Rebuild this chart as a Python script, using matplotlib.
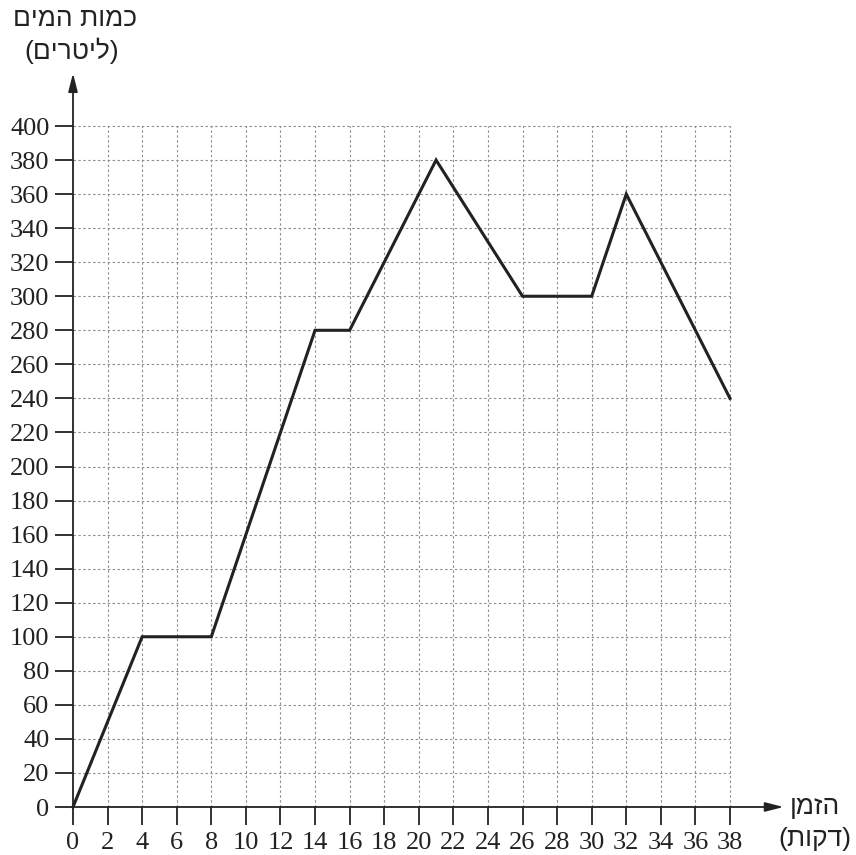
import matplotlib
matplotlib.use("Agg")
import matplotlib.pyplot as plt

# Data
time_min = [0, 4, 8, 14, 16, 21, 26, 30, 32, 38]
water_l = [0, 100, 100, 280, 280, 380, 300, 300, 360, 240]
x_ticks = list(range(0, 39, 2))
y_ticks = list(range(0, 401, 20))

def vis(s):
    # visual (left-to-right) order for Hebrew text
    return s[::-1]

y_label_1 = "כמות המים"
y_label_2 = "ליטרים"
x_label_1 = "הזמן"
x_label_2 = "דקות"

W, H = 856, 855
fig = plt.figure(figsize=(W / 100, H / 100), dpi=100)
x0_px, y0_px = 73, 807
px_per_x = (730 - 73) / 38
px_per_y = (807 - 126) / 400
xmax, ymax = 42, 436
ax = fig.add_axes([x0_px / W, (H - y0_px) / H, xmax * px_per_x / W, ymax * px_per_y / H])
ax.set_xlim(0, xmax)
ax.set_ylim(0, ymax)
for s in ax.spines.values():
    s.set_visible(False)

# grid
grid_kw = dict(color="#8f8f8f", lw=0.8, linestyle=(0, (2.2, 2.2)), zorder=1)
for xv in x_ticks[1:]:
    ax.plot([xv, xv], [0, y_ticks[-1]], **grid_kw)
for yv in y_ticks[1:]:
    ax.plot([0, x_ticks[-1]], [yv, yv], **grid_kw)

# axes with arrows
arr = dict(arrowstyle="-|>,head_length=1.1,head_width=0.28", color="#222222", lw=1.3,
           shrinkA=0, shrinkB=0)
ax.annotate("", xy=(41.1, 0), xytext=(0, 0), arrowprops=arr, annotation_clip=False, zorder=3)
ax.annotate("", xy=(0, 431), xytext=(0, 0), arrowprops=arr, annotation_clip=False, zorder=3)

ax.set_xticks(x_ticks)
ax.set_yticks(y_ticks)
ax.tick_params(axis="both", direction="out", length=13, width=1.3, color="#222222",
               labelsize=19)
ax.tick_params(axis="y", pad=4)
ax.tick_params(axis="x", pad=5)
for lab in ax.get_xticklabels() + ax.get_yticklabels():
    lab.set_fontfamily("Liberation Serif")
    lab.set_color("#222222")

ax.plot(time_min, water_l, color="#222222", lw=2.2, solid_joinstyle="miter", zorder=4, clip_on=False)

hfont = dict(family=["Liberation Sans", "DejaVu Sans"], fontsize=19, color="#222222")
fig.text(75 / W, 1 - 19 / H, vis(y_label_1), ha="center", va="center", **hfont)
fig.text(72 / W, 1 - 51 / H, "(" + vis(y_label_2) + ")", ha="center", va="center", **hfont)
fig.text(815 / W, 1 - 807 / H, vis(x_label_1), ha="center", va="center", **hfont)
fig.text(815 / W, 1 - 839 / H, "(" + vis(x_label_2) + ")", ha="center", va="center", **hfont)

fig.savefig("out.png", dpi=100)
